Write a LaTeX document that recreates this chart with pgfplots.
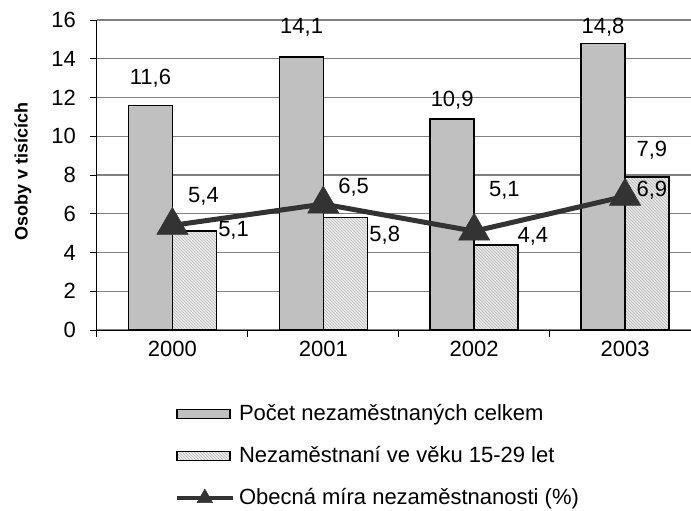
\documentclass[border=0pt]{standalone}
\usepackage{fontspec}
\setmainfont{Liberation Sans}
\usepackage{pgfplots}
\pgfplotsset{compat=1.18}
\usetikzlibrary{patterns}
\definecolor{barg}{HTML}{C0C0C0}
\definecolor{lineg}{HTML}{333333}
\definecolor{gridg}{HTML}{808080}
\pgfdeclarepatternformonly{finelines}{\pgfpoint{-0.1pt}{-0.1pt}}{\pgfpoint{1.6pt}{1.6pt}}{\pgfpoint{1.5pt}{1.5pt}}{%
  \pgfsetlinewidth{0.35pt}%
  \pgfpathmoveto{\pgfpoint{-0.1pt}{1.6pt}}\pgfpathlineto{\pgfpoint{1.6pt}{-0.1pt}}\pgfusepath{stroke}}
\pgfplotsset{
  barlegend/.style={legend image code/.code={\draw[##1] (0pt,-2.25pt) rectangle (26.5pt,2.25pt);}},
  linelegend/.style={legend image code/.code={\draw[##1, line width=2.2pt, mark size=4.5pt, mark repeat=2, mark phase=2] plot coordinates {(0pt,0pt) (14pt,0pt) (28pt,0pt)};}},
}
\begin{document}
\begin{tikzpicture}
\useasboundingbox (-48.5pt,-90pt) rectangle (297pt,165pt);
\begin{axis}[
  at={(0,0)}, anchor=south west,
  scale only axis, width=297pt, height=155pt,
  xmin=-0.5, xmax=3.437, ymin=0, ymax=16,
  axis x line*=bottom, axis y line*=left,
  axis line style={black, line width=0.5pt},
  xtick={-0.5,0.5,1.5,2.5}, xticklabels={},
  extra x ticks={0,1,2,3}, extra x tick labels={2000,2001,2002,2003},
  extra x tick style={major tick length=0pt, xticklabel style={yshift=-2pt}},
  ytick={0,2,...,16},
  ymajorgrids, grid style={gridg, line width=0.6pt},
  tick align=outside, major tick length=3.5pt,
  tick style={black, line width=0.5pt},
  ticklabel style={font=\fontsize{11}{13}\selectfont},
  /pgf/number format/assume math mode=true,
  yticklabel style={xshift=-3.5pt},
  ylabel={Osoby v tisících},
  ylabel style={at={(axis description cs:-0.1246,0.51)}, anchor=center, font=\bfseries\fontsize{9}{11}\selectfont},
  legend style={at={(axis description cs:0.13,-0.225)}, anchor=north west, draw=none, fill=none, inner sep=0pt,
    font=\fontsize{11}{13}\selectfont, row sep=7.5pt, legend cell align=left,
    /tikz/every even column/.style={column sep=3pt}},
  clip=false,
]
\addplot[ybar, bar width=0.292, bar shift=-0.146, fill=barg, draw=black, line width=0.75pt, barlegend]
  coordinates {(0,11.6) (1,14.1) (2,10.9) (3,14.8)};
\addlegendentry{Počet nezaměstnaných celkem}
\addplot[ybar, bar width=0.292, bar shift=0.146, fill=white!93!black, draw=black, line width=0.75pt,
  postaction={pattern=finelines, pattern color=gray!55}, barlegend]
  coordinates {(0,5.1) (1,5.8) (2,4.4) (3,7.9)};
\addlegendentry{Nezaměstnaní ve věku 15-29 let}
\addplot[color=lineg, line width=2.5pt, mark=triangle*, mark size=9pt, mark options={solid, line width=0.3pt, fill=lineg}, linelegend]
  coordinates {(0,5.4) (1,6.5) (2,5.1) (3,6.9)};
\addlegendentry{Obecná míra nezaměstnanosti (\%)}
\begin{scope}[every node/.style={font=\fontsize{11}{13}\selectfont, inner sep=0pt}]
\node at (axis cs:-0.146,13.0) {11,6};
\node at (axis cs:0.856,15.6) {14,1};
\node at (axis cs:1.854,11.87) {10,9};
\node at (axis cs:2.854,15.65) {14,8};
\node at (axis cs:0.405,5.16) {5,1};
\node at (axis cs:1.407,4.9) {5,8};
\node at (axis cs:2.389,4.85) {4,4};
\node at (axis cs:3.178,9.3) {7,9};
\node at (axis cs:0.206,6.92) {5,4};
\node at (axis cs:1.201,7.38) {6,5};
\node at (axis cs:2.2,7.2) {5,1};
\node at (axis cs:3.178,7.2) {6,9};
\end{scope}
\end{axis}
\end{tikzpicture}
\end{document}
